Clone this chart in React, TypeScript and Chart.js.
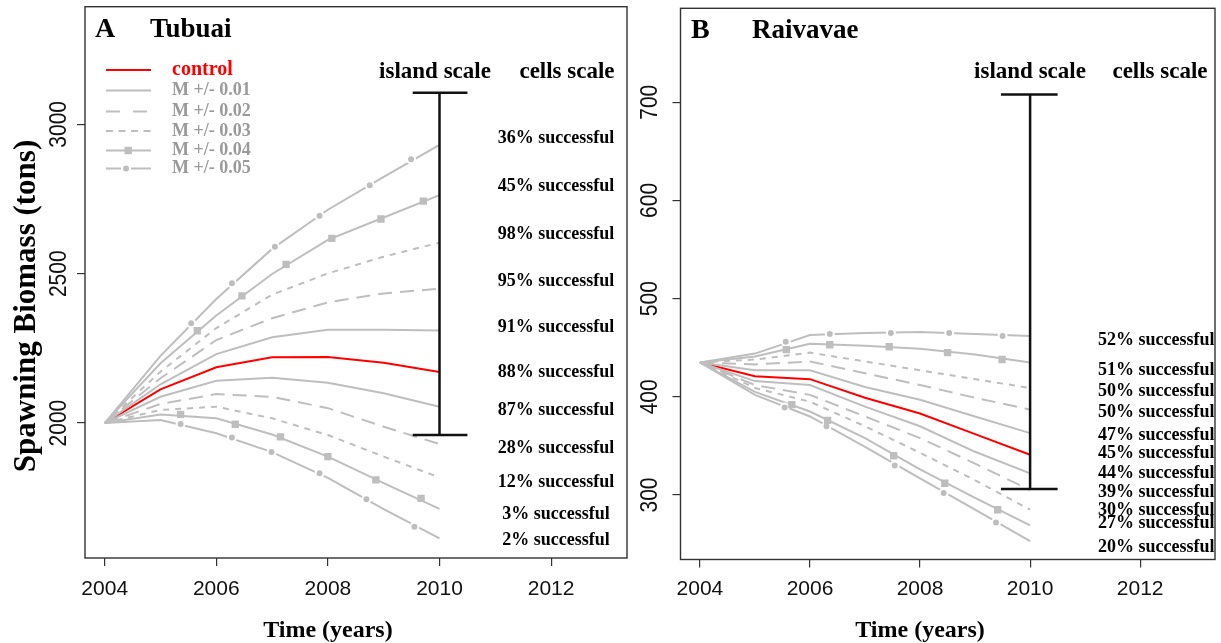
import React, { useEffect, useRef } from "react";
import { Chart, registerables } from "chart.js";
Chart.register(...registerables);

// ---------------- data ----------------
const YEARS = [2004, 2005, 2006, 2007, 2008, 2009, 2010];
const X_TICKS = [2004, 2006, 2008, 2010, 2012];

// Panel A - Tubuai (spawning biomass, tons)
const A_Y_TICKS = [2000, 2500, 3000];
const A_CONTROL = [2000, 2113, 2187, 2220, 2221, 2202, 2171];
const A_M01_HI = [2000, 2130, 2231, 2287, 2312, 2312, 2310];
const A_M01_LO = [2000, 2088, 2142, 2152, 2135, 2100, 2055];
const A_M02_HI = [2000, 2150, 2278, 2351, 2404, 2434, 2450];
const A_M02_LO = [2000, 2064, 2097, 2088, 2050, 1988, 1930];
const A_M03_HI = [2000, 2172, 2318, 2430, 2501, 2557, 2604];
const A_M03_LO = [2000, 2044, 2055, 2016, 1960, 1888, 1818];
const A_M04_HI = [2000, 2200, 2360, 2499, 2613, 2688, 2763];
const A_M04_LO = [2000, 2029, 2016, 1962, 1888, 1799, 1713];
const A_M05_HI = [2000, 2225, 2415, 2583, 2714, 2824, 2931];
const A_M05_LO = [2000, 2010, 1966, 1903, 1817, 1712, 1614];
// marker points (year, tons)
const A_M04_HI_MX = [2005.66, 2006.46, 2007.25, 2008.07, 2008.95, 2009.71];
const A_M04_HI_MY = [2309, 2426, 2531, 2618, 2683, 2743];
const A_M05_HI_MX = [2005.55, 2006.28, 2007.05, 2007.85, 2008.75, 2009.49];
const A_M05_HI_MY = [2334, 2468, 2590, 2694, 2796, 2883];
const A_M04_LO_MX = [2005.36, 2006.34, 2007.15, 2008.0, 2008.86, 2009.67];
const A_M04_LO_MY = [2029, 1996, 1954, 1888, 1810, 1748];
const A_M05_LO_MX = [2005.36, 2006.28, 2006.99, 2007.85, 2008.69, 2009.55];
const A_M05_LO_MY = [1997, 1952, 1903, 1832, 1745, 1653];
// island scale range (low, high) and its cap span in years
const A_ISLAND = [1960, 3106];
const A_ISLAND_X = 2010;
const A_CAP_X = [2009.52, 2010.5];
const A_CELLS = ["36% successful", "45% successful", "98% successful", "95% successful", "91% successful", "88% successful", "87% successful", "28% successful", "12% successful", "3% successful", "2% successful"];

// Panel B - Raivavae
const B_Y_TICKS = [300, 400, 500, 600, 700];
const B_CONTROL = [435, 421, 418, 399, 383, 362, 341];
const B_M01_HI = [435, 427, 427, 410, 397, 380, 363];
const B_M01_LO = [435, 416, 412, 390, 370, 344, 322];
const B_M02_HI = [435, 433, 436, 424, 412, 399, 387];
const B_M02_LO = [435, 412, 402, 380, 358, 332, 305];
const B_M03_HI = [435, 438, 445, 436, 427, 418, 409];
const B_M03_LO = [435, 409, 395, 370, 343, 315, 285];
const B_M04_HI = [435, 441, 454, 452, 449, 443, 435];
const B_M04_LO = [435, 405, 385, 358, 326, 297, 269];
const B_M05_HI = [435, 444, 463, 465, 466, 464, 462];
const B_M05_LO = [435, 402, 380, 349, 317, 285, 253];
const B_M05_HI_MX = [2005.56, 2006.36, 2007.47, 2008.53, 2009.5];
const B_M05_HI_MY = [456, 464, 465, 465, 462];
const B_M04_HI_MX = [2005.57, 2006.36, 2007.44, 2008.5, 2009.49];
const B_M04_HI_MY = [448, 453, 451, 445, 438];
const B_M04_LO_MX = [2005.67, 2006.32, 2007.52, 2008.45, 2009.41];
const B_M04_LO_MY = [392, 376, 340, 312, 285];
const B_M05_LO_MX = [2005.54, 2006.3, 2007.54, 2008.43, 2009.38];
const B_M05_LO_MY = [389, 370, 330, 302, 272];
const B_ISLAND = [306, 708];
const B_ISLAND_X = 2010;
const B_CAP_X = [2009.47, 2010.5];
const B_CELLS = ["52% successful", "51% successful", "50% successful", "50% successful", "47% successful", "45% successful", "44% successful", "39% successful", "30% successful", "27% successful", "20% successful"];

const LEGEND_LABELS = ["control", "M +/- 0.01", "M +/- 0.02", "M +/- 0.03", "M +/- 0.04", "M +/- 0.05"];

// ---------------- styles / layout ----------------
const SERIF = '"Liberation Serif", "Times New Roman", serif';
const SANS = '"Liberation Sans", Arial, sans-serif';
const GRAY = "#BEBEBE";
const RED = "#FF0000";
const LONG = [14, 8];
const SHORT = [6, 6];
const W = 1221;
const H = 643;

function lineDs(values: number[], color: string, dash: number[], order: number) {
  return {
    data: YEARS.map((x, i) => ({ x, y: values[i] })),
    showLine: true,
    borderColor: color,
    borderWidth: 2,
    borderDash: dash,
    pointRadius: 0,
    pointHoverRadius: 0,
    fill: false,
    tension: 0,
    order,
  };
}

function markerDs(xs: number[], ys: number[], kind: "sq" | "ci") {
  return {
    data: xs.map((x, i) => ({ x, y: ys[i] })),
    showLine: false,
    pointStyle: kind === "sq" ? "rect" : "circle",
    pointRadius: kind === "sq" ? 5.2 : 4,
    pointBackgroundColor: GRAY,
    pointBorderColor: kind === "sq" ? GRAY : "#ffffff",
    pointBorderWidth: kind === "sq" ? 0 : 2,
    order: -1,
  };
}

function barDs(x: number, range: number[], capX: number[]) {
  const base = { showLine: true, borderColor: "#111", borderWidth: 2.5, pointRadius: 0, fill: false, order: -2 };
  return [
    { ...base, data: [{ x, y: range[0] }, { x, y: range[1] }] },
    { ...base, data: [{ x: capX[0], y: range[1] }, { x: capX[1], y: range[1] }] },
    { ...base, data: [{ x: capX[0], y: range[0] }, { x: capX[1], y: range[0] }] },
  ];
}

type Panel = {
  lines: any[];
  xMin: number; xMax: number; yMin: number; yMax: number;
  yTicks: number[];
  padding: { left: number; top: number; right: number; bottom: number };
  yWidth: number; xHeight: number;
  decor: (chart: any) => void;
};

function grayLines(hiLo: number[][]) {
  // order: [m01hi, m01lo, m02hi, m02lo, m03hi, m03lo, m04hi, m04lo, m05hi, m05lo]
  const dashes = [[], [], LONG, LONG, SHORT, SHORT, [], [], [], []];
  return hiLo.map((v, i) => lineDs(v, GRAY, dashes[i], 0));
}

function drawCommon(chart: any, yLabelX: number, yTicks: number[], letter: string, title: string, letterX: number, titleX: number, titleBase: number) {
  const ctx = chart.ctx as CanvasRenderingContext2D;
  const a = chart.chartArea;
  const xs = chart.scales.x;
  const ys = chart.scales.y;
  ctx.save();
  ctx.setLineDash([]);
  ctx.strokeStyle = "#333";
  ctx.lineWidth = 1.4;
  ctx.strokeRect(a.left, a.top, a.right - a.left, a.bottom - a.top);
  ctx.fillStyle = "#111";
  ctx.font = `21px ${SANS}`;
  ctx.textAlign = "center";
  ctx.textBaseline = "alphabetic";
  X_TICKS.forEach((v) => ctx.fillText(String(v), xs.getPixelForValue(v), 595));
  yTicks.forEach((v) => {
    const y = ys.getPixelForValue(v);
    ctx.save();
    ctx.translate(yLabelX, y);
    ctx.rotate(-Math.PI / 2);
    ctx.scale(1, 1.15);
    ctx.fillText(String(v), 0, 0);
    ctx.restore();
  });
  ctx.fillStyle = "#000";
  ctx.font = `bold 24px ${SERIF}`;
  ctx.fillText("Time (years)", xs.getPixelForValue(2008), 637);
  ctx.textAlign = "left";
  ctx.font = `bold 28px ${SERIF}`;
  ctx.fillText(letter, letterX, titleBase);
  ctx.font = `bold 27px ${SERIF}`;
  ctx.fillText(title, titleX, titleBase);
  ctx.restore();
}

const A_CELL_Y = [138, 186, 234, 281, 327, 372, 410, 448, 482, 514, 540];
const B_CELL_Y = [340, 370, 391, 412, 435, 453, 473, 492, 510, 523, 547];

const PANEL_A: Panel = {
  lines: [
    lineDs(A_CONTROL, RED, [], 5),
    ...grayLines([A_M01_HI, A_M01_LO, A_M02_HI, A_M02_LO, A_M03_HI, A_M03_LO, A_M04_HI, A_M04_LO, A_M05_HI, A_M05_LO]),
    markerDs(A_M04_HI_MX, A_M04_HI_MY, "sq"),
    markerDs(A_M04_LO_MX, A_M04_LO_MY, "sq"),
    markerDs(A_M05_HI_MX, A_M05_HI_MY, "ci"),
    markerDs(A_M05_LO_MX, A_M05_LO_MY, "ci"),
    ...barDs(A_ISLAND_X, A_ISLAND, A_CAP_X),
  ],
  xMin: 2003.647, xMax: 2013.36, yMin: 1548.5, yMax: 3393.6,
  yTicks: A_Y_TICKS,
  padding: { left: 0, top: 6.7, right: W - 627, bottom: 0 },
  yWidth: 85, xHeight: H - 558,
  decor: (chart: any) => {
    drawCommon(chart, 66, A_Y_TICKS, "A", "Tubuai", 95, 150, 36.7);
    const ctx = chart.ctx as CanvasRenderingContext2D;
    ctx.save();
    // y axis title
    ctx.fillStyle = "#000";
    ctx.font = `bold 31px ${SERIF}`;
    ctx.textAlign = "center";
    ctx.textBaseline = "middle";
    ctx.translate(27, 306);
    ctx.rotate(-Math.PI / 2);
    ctx.fillText("Spawning Biomass (tons)", 0, 0);
    ctx.restore();
    ctx.save();
    ctx.textAlign = "center";
    ctx.textBaseline = "alphabetic";
    ctx.fillStyle = "#000";
    ctx.font = `bold 23px ${SERIF}`;
    ctx.fillText("island scale", 435, 78);
    ctx.fillText("cells scale", 567, 78);
    ctx.font = `bold 18px ${SERIF}`;
    ctx.textBaseline = "middle";
    A_CELLS.forEach((t, i) => ctx.fillText(t, 556, A_CELL_Y[i]));
    // legend
    const x0 = 106, x1 = 151, tx = 172;
    const rows = [70, 90.5, 111.5, 131, 150.5, 168.5];
    const styles = [
      { c: RED, d: [] as number[], m: "" },
      { c: GRAY, d: [], m: "" },
      { c: GRAY, d: [14, 13], m: "" },
      { c: GRAY, d: [7, 5.5], m: "" },
      { c: GRAY, d: [], m: "sq" },
      { c: GRAY, d: [], m: "ci" },
    ];
    styles.forEach((s, i) => {
      const y = rows[i];
      ctx.strokeStyle = s.c;
      ctx.lineWidth = 2;
      ctx.setLineDash(s.d);
      ctx.beginPath();
      if (s.m === "ci") {
        ctx.moveTo(x0, y); ctx.lineTo(121, y);
        ctx.moveTo(131, y); ctx.lineTo(x1, y);
      } else {
        ctx.moveTo(x0, y); ctx.lineTo(x1, y);
      }
      ctx.stroke();
      ctx.setLineDash([]);
      ctx.fillStyle = GRAY;
      if (s.m === "sq") ctx.fillRect(124.5, y - 3.7, 7.4, 7.4);
      if (s.m === "ci") { ctx.beginPath(); ctx.arc(126, y, 3, 0, Math.PI * 2); ctx.fill(); }
      ctx.textAlign = "left";
      ctx.textBaseline = "middle";
      if (i === 0) { ctx.fillStyle = RED; ctx.font = `bold 20px ${SERIF}`; }
      else { ctx.fillStyle = "#9a9a9a"; ctx.font = `bold 18px ${SERIF}`; }
      ctx.fillText(LEGEND_LABELS[i], tx, y);
    });
    ctx.restore();
  },
};

const PANEL_B: Panel = {
  lines: [
    lineDs(B_CONTROL, RED, [], 5),
    ...grayLines([B_M01_HI, B_M01_LO, B_M02_HI, B_M02_LO, B_M03_HI, B_M03_LO, B_M04_HI, B_M04_LO, B_M05_HI, B_M05_LO]),
    markerDs(B_M04_HI_MX, B_M04_HI_MY, "sq"),
    markerDs(B_M04_LO_MX, B_M04_LO_MY, "sq"),
    markerDs(B_M05_HI_MX, B_M05_HI_MY, "ci"),
    markerDs(B_M05_LO_MX, B_M05_LO_MY, "ci"),
    ...barDs(B_ISLAND_X, B_ISLAND, B_CAP_X),
  ],
  xMin: 2003.647, xMax: 2013.36, yMin: 234.3, yMax: 795.7,
  yTicks: B_Y_TICKS,
  padding: { left: 640.5, top: 8.3, right: 1.5, bottom: 0 },
  yWidth: 40, xHeight: H - 559.5,
  decor: (chart: any) => {
    drawCommon(chart, 657, B_Y_TICKS, "B", "Raivavae", 691, 752, 38.3);
    const ctx = chart.ctx as CanvasRenderingContext2D;
    ctx.save();
    ctx.fillStyle = "#000";
    ctx.textAlign = "center";
    ctx.textBaseline = "alphabetic";
    ctx.font = `bold 23px ${SERIF}`;
    ctx.fillText("island scale", 1030, 78);
    ctx.fillText("cells scale", 1160, 78);
    ctx.font = `bold 18px ${SERIF}`;
    ctx.textAlign = "left";
    ctx.textBaseline = "middle";
    B_CELLS.forEach((t, i) => ctx.fillText(t, 1098, B_CELL_Y[i]));
    ctx.restore();
  },
};

function buildConfig(p: Panel): any {
  return {
    type: "scatter",
    data: { datasets: p.lines },
    options: {
      responsive: false,
      animation: false,
      devicePixelRatio: 1,
      events: [],
      layout: { padding: p.padding },
      plugins: { legend: { display: false }, tooltip: { enabled: false } },
      scales: {
        x: {
          type: "linear",
          min: p.xMin,
          max: p.xMax,
          afterBuildTicks: (s: any) => { s.ticks = X_TICKS.map((v) => ({ value: v })); },
          afterFit: (s: any) => { s.height = p.xHeight; },
          ticks: { display: false },
          grid: { display: true, drawOnChartArea: false, drawTicks: true, tickLength: 8, color: "#333", lineWidth: 1.2 },
          border: { display: false },
        },
        y: {
          type: "linear",
          min: p.yMin,
          max: p.yMax,
          afterBuildTicks: (s: any) => { s.ticks = p.yTicks.map((v) => ({ value: v })); },
          afterFit: (s: any) => { s.width = p.yWidth; },
          ticks: { display: false },
          grid: { display: true, drawOnChartArea: false, drawTicks: true, tickLength: 8, color: "#333", lineWidth: 1.2 },
          border: { display: false },
        },
      },
    },
    plugins: [{ id: "decor", afterDraw: (chart: any) => p.decor(chart) }],
  };
}

export default function App() {
  const aRef = useRef<HTMLCanvasElement>(null);
  const bRef = useRef<HTMLCanvasElement>(null);
  useEffect(() => {
    const ca = new Chart(aRef.current as HTMLCanvasElement, buildConfig(PANEL_A));
    const cb = new Chart(bRef.current as HTMLCanvasElement, buildConfig(PANEL_B));
    return () => { ca.destroy(); cb.destroy(); };
  }, []);
  return (
    <div style={{ position: "absolute", left: 0, top: 0, width: W, height: H, background: "#fff", overflow: "hidden" }}>
      <canvas ref={aRef} width={W} height={H} style={{ position: "absolute", left: 0, top: 0 }} />
      <canvas ref={bRef} width={W} height={H} style={{ position: "absolute", left: 0, top: 0 }} />
    </div>
  );
}
